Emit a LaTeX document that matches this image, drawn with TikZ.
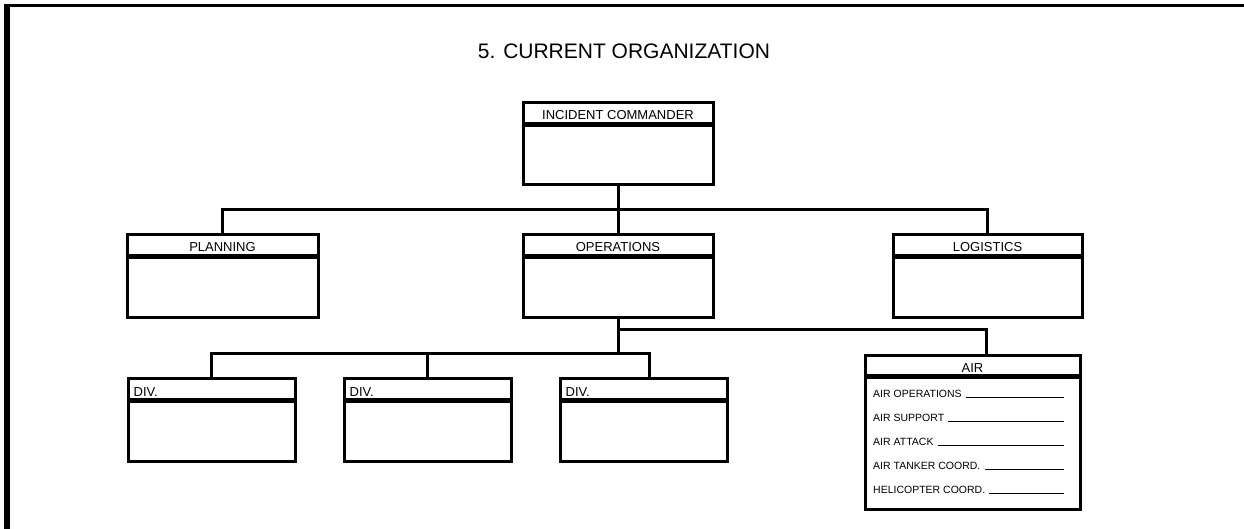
\documentclass[tikz,border=0pt]{standalone}
\usepackage{fontspec}
\setmainfont{Liberation Sans}
\tikzset{
  orgbox/.style={draw, rectangle, line width=3pt, inner sep=0pt},
  hdrline/.style={line width=4.2pt},
  conn/.style={line width=3pt},
  hdr/.style={font=\fontsize{13}{15}\selectfont, anchor=base, inner sep=0pt},
  airitem/.style={font=\fontsize{10.5}{12}\selectfont, anchor=base west, inner sep=0pt},
  uline/.style={line width=1pt},
  frame/.style={line cap=butt}
}
\newcommand\hdrsep[2]{\draw[hdrline] ([yshift=-#2]#1.north west) -- ([yshift=-#2]#1.north east);}
\begin{document}
\begin{tikzpicture}[x=1pt,y=-1pt]
\useasboundingbox (0,0) rectangle (1244,529);
% frame
\draw[frame, line width=3pt] (4,5.5) -- (1244,5.5);
\draw[frame, line width=6pt] (7,4) -- (7,529);
% title
\node[font=\fontsize{21}{25}\selectfont, anchor=base, inner sep=0pt] (title) at (624,59) {5. CURRENT ORGANIZATION};
% boxes
\node[orgbox, minimum width=190pt, minimum height=82pt] (ic) at (618,144) {};
\node[orgbox, minimum width=191pt, minimum height=82pt] (plan) at (222.5,276) {};
\node[orgbox, minimum width=190pt, minimum height=82pt] (ops) at (618,276) {};
\node[orgbox, minimum width=189pt, minimum height=82pt] (log) at (987.5,276) {};
\node[orgbox, minimum width=167pt, minimum height=83pt] (d1) at (211.5,419.5) {};
\node[orgbox, minimum width=167pt, minimum height=83pt] (d2) at (427.5,419.5) {};
\node[orgbox, minimum width=167pt, minimum height=83pt] (d3) at (643.5,419.5) {};
\node[orgbox, minimum width=215pt, minimum height=154pt] (air) at (972.5,432) {};
% header separators
\hdrsep{ic}{23pt}
\hdrsep{plan}{23pt}
\hdrsep{ops}{23pt}
\hdrsep{log}{23pt}
\hdrsep{d1}{24pt}
\hdrsep{d2}{24pt}
\hdrsep{d3}{24pt}
\hdrsep{air}{23pt}
% header texts
\node[hdr] (ict) at ([yshift=-18pt]ic.north) {INCIDENT COMMANDER};
\node[hdr] (plant) at ([yshift=-18.5pt]plan.north) {PLANNING};
\node[hdr] (opst) at ([yshift=-18.5pt]ops.north) {OPERATIONS};
\node[hdr] (logt) at ([yshift=-18.5pt]log.north) {LOGISTICS};
\node[hdr, anchor=base west] (d1t) at ([xshift=7pt,yshift=-20pt]d1.north west) {DIV.};
\node[hdr, anchor=base west] (d2t) at ([xshift=7pt,yshift=-20pt]d2.north west) {DIV.};
\node[hdr, anchor=base west] (d3t) at ([xshift=7pt,yshift=-20pt]d3.north west) {DIV.};
\node[hdr] (airt) at ([yshift=-19pt]air.north) {AIR};
% air items
\coordinate (ulend) at (1064,0);
\node[airitem] (a1) at (873,397) {AIR OPERATIONS};
\node[airitem] (a2) at (873,421) {AIR SUPPORT};
\node[airitem] (a3) at (873,445) {AIR ATTACK};
\node[airitem] (a4) at (873,469) {AIR TANKER COORD.};
\node[airitem] (a5) at (873,493) {HELICOPTER COORD.};
\foreach \a in {a1,a2,a3,a4,a5}{
  \draw[uline] ([xshift=4pt]\a.base east) -- (\a.base -| ulend);
}
% connectors level 1
\coordinate (bus1) at (618,210);
\draw[conn] (ic.south) -- (ops.north);
\draw[conn] (plan.north) -- (plan.north |- bus1) -- (log.north |- bus1) -- (log.north);
% connectors level 2
\coordinate (bus2) at (618,353);
\coordinate (bus3) at (618,329);
\coordinate (d3top) at ([xshift=5.5pt]d3.north);
\coordinate (airtop) at ([xshift=13.5pt]air.north);
\draw[conn] (ops.south) -- (bus2);
\draw[conn] (d1.north) -- (d1.north |- bus2) -- (d3top |- bus2) -- (d3top);
\draw[conn] (d2.north) -- (d2.north |- bus2);
\draw[conn] (bus3) -- (airtop |- bus3) -- (airtop);
\end{tikzpicture}
\end{document}
